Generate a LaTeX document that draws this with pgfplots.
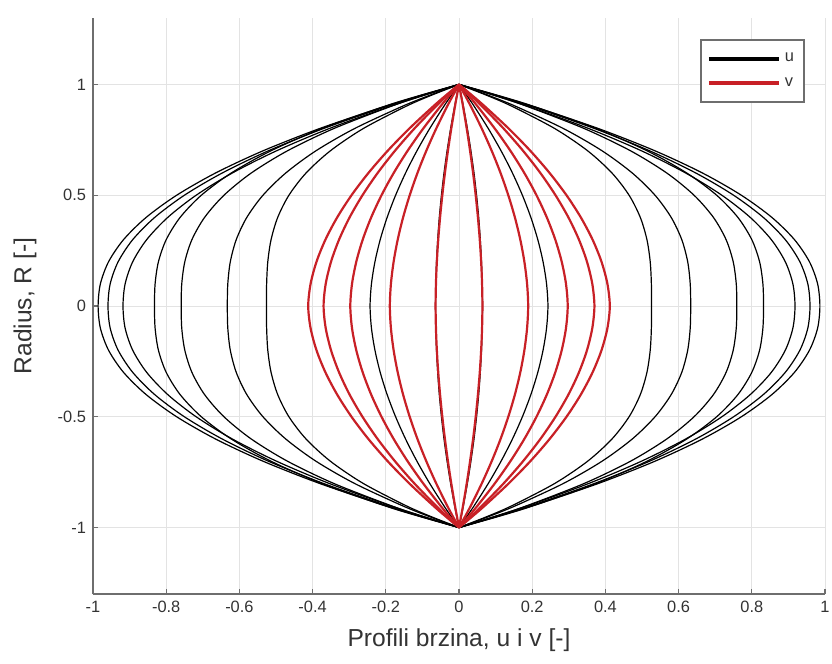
\documentclass[border=0pt]{standalone}
\usepackage{pgfplots}
\usepackage{pgfplotstable}
\pgfplotsset{compat=1.18}
\usepackage{fontspec}
\setmainfont{Liberation Sans}
\definecolor{mred}{RGB}{200,32,38}
\definecolor{axgray}{RGB}{110,110,110}

% positive side profiles: R, u-curves b1..b9, v-curves r1..r5
\pgfplotstableread{
R b1 b2 b3 b4 b5 b6 b7 b8 b9 r1 r2 r3 r4 r5
-1 0 0 0 0 0 0 0 0 0 0 0 0 0 0
-0.95 0.1052 0.1023 0.0980 0.1076 0.0981 0.0818 0.0773 0.0214 0.0062 0.0363 0.0326 0.0262 0.0167 0.0056
-0.9 0.2040 0.1984 0.1899 0.2060 0.1879 0.1567 0.1465 0.0420 0.0122 0.0712 0.0639 0.0513 0.0327 0.0111
-0.8 0.3825 0.3720 0.3561 0.3766 0.3435 0.2865 0.2626 0.0804 0.0230 0.1363 0.1224 0.0982 0.0625 0.0212
-0.7 0.5362 0.5215 0.4992 0.5144 0.4693 0.3914 0.3519 0.1151 0.0326 0.1952 0.1753 0.1407 0.0895 0.0303
-0.6 0.6656 0.6473 0.6197 0.6225 0.5679 0.4736 0.4181 0.1461 0.0410 0.2477 0.2225 0.1786 0.1136 0.0385
-0.5 0.7714 0.7503 0.7182 0.7040 0.6422 0.5356 0.4647 0.1732 0.0480 0.2937 0.2637 0.2117 0.1347 0.0456
-0.4 0.8547 0.8313 0.7957 0.7619 0.6951 0.5797 0.4953 0.1963 0.0538 0.3328 0.2989 0.2399 0.1527 0.0517
-0.3 0.9163 0.8912 0.8531 0.7998 0.7296 0.6085 0.5134 0.2152 0.0582 0.3648 0.3276 0.2630 0.1674 0.0567
-0.2 0.9574 0.9312 0.8914 0.8212 0.7491 0.6248 0.5224 0.2296 0.0614 0.3893 0.3496 0.2806 0.1786 0.0605
-0.1 0.9798 0.9530 0.9122 0.8303 0.7575 0.6317 0.5256 0.2392 0.0634 0.4055 0.3642 0.2923 0.1860 0.0630
0 0.9860 0.9590 0.9180 0.8320 0.7590 0.6330 0.5260 0.2430 0.0640 0.4120 0.3700 0.2970 0.1890 0.0640
0.1 0.9798 0.9530 0.9122 0.8303 0.7575 0.6317 0.5256 0.2392 0.0634 0.4055 0.3642 0.2923 0.1860 0.0630
0.2 0.9574 0.9312 0.8914 0.8212 0.7491 0.6248 0.5224 0.2296 0.0614 0.3893 0.3496 0.2806 0.1786 0.0605
0.3 0.9163 0.8912 0.8531 0.7998 0.7296 0.6085 0.5134 0.2152 0.0582 0.3648 0.3276 0.2630 0.1674 0.0567
0.4 0.8547 0.8313 0.7957 0.7619 0.6951 0.5797 0.4953 0.1963 0.0538 0.3328 0.2989 0.2399 0.1527 0.0517
0.5 0.7714 0.7503 0.7182 0.7040 0.6422 0.5356 0.4647 0.1732 0.0480 0.2937 0.2637 0.2117 0.1347 0.0456
0.6 0.6656 0.6473 0.6197 0.6225 0.5679 0.4736 0.4181 0.1461 0.0410 0.2477 0.2225 0.1786 0.1136 0.0385
0.7 0.5362 0.5215 0.4992 0.5144 0.4693 0.3914 0.3519 0.1151 0.0326 0.1952 0.1753 0.1407 0.0895 0.0303
0.8 0.3825 0.3720 0.3561 0.3766 0.3435 0.2865 0.2626 0.0804 0.0230 0.1363 0.1224 0.0982 0.0625 0.0212
0.9 0.2040 0.1984 0.1899 0.2060 0.1879 0.1567 0.1465 0.0420 0.0122 0.0712 0.0639 0.0513 0.0327 0.0111
0.95 0.1052 0.1023 0.0980 0.1076 0.0981 0.0818 0.0773 0.0214 0.0062 0.0363 0.0326 0.0262 0.0167 0.0056
1 0 0 0 0 0 0 0 0 0 0 0 0 0 0
}\pos

% negative side profiles
\pgfplotstableread{
R b1 b2 b3 b4 b5 b6 b7 b8 b9 r1 r2 r3 r4 r5
-1 0 0 0 0 0 0 0 0 0 0 0 0 0 0
-0.95 -0.1052 -0.1023 -0.0980 -0.1076 -0.0981 -0.0818 -0.0773 -0.0214 -0.0062 -0.0363 -0.0326 -0.0262 -0.0167 -0.0056
-0.9 -0.2040 -0.1984 -0.1899 -0.2060 -0.1879 -0.1567 -0.1465 -0.0420 -0.0122 -0.0712 -0.0639 -0.0513 -0.0327 -0.0111
-0.8 -0.3825 -0.3720 -0.3561 -0.3766 -0.3435 -0.2865 -0.2626 -0.0804 -0.0230 -0.1363 -0.1224 -0.0982 -0.0625 -0.0212
-0.7 -0.5362 -0.5215 -0.4992 -0.5144 -0.4693 -0.3914 -0.3519 -0.1151 -0.0326 -0.1952 -0.1753 -0.1407 -0.0895 -0.0303
-0.6 -0.6656 -0.6473 -0.6197 -0.6225 -0.5679 -0.4736 -0.4181 -0.1461 -0.0410 -0.2477 -0.2225 -0.1786 -0.1136 -0.0385
-0.5 -0.7714 -0.7503 -0.7182 -0.7040 -0.6422 -0.5356 -0.4647 -0.1732 -0.0480 -0.2937 -0.2637 -0.2117 -0.1347 -0.0456
-0.4 -0.8547 -0.8313 -0.7957 -0.7619 -0.6951 -0.5797 -0.4953 -0.1963 -0.0538 -0.3328 -0.2989 -0.2399 -0.1527 -0.0517
-0.3 -0.9163 -0.8912 -0.8531 -0.7998 -0.7296 -0.6085 -0.5134 -0.2152 -0.0582 -0.3648 -0.3276 -0.2630 -0.1674 -0.0567
-0.2 -0.9574 -0.9312 -0.8914 -0.8212 -0.7491 -0.6248 -0.5224 -0.2296 -0.0614 -0.3893 -0.3496 -0.2806 -0.1786 -0.0605
-0.1 -0.9798 -0.9530 -0.9122 -0.8303 -0.7575 -0.6317 -0.5256 -0.2392 -0.0634 -0.4055 -0.3642 -0.2923 -0.1860 -0.0630
0 -0.9860 -0.9590 -0.9180 -0.8320 -0.7590 -0.6330 -0.5260 -0.2430 -0.0640 -0.4120 -0.3700 -0.2970 -0.1890 -0.0640
0.1 -0.9798 -0.9530 -0.9122 -0.8303 -0.7575 -0.6317 -0.5256 -0.2392 -0.0634 -0.4055 -0.3642 -0.2923 -0.1860 -0.0630
0.2 -0.9574 -0.9312 -0.8914 -0.8212 -0.7491 -0.6248 -0.5224 -0.2296 -0.0614 -0.3893 -0.3496 -0.2806 -0.1786 -0.0605
0.3 -0.9163 -0.8912 -0.8531 -0.7998 -0.7296 -0.6085 -0.5134 -0.2152 -0.0582 -0.3648 -0.3276 -0.2630 -0.1674 -0.0567
0.4 -0.8547 -0.8313 -0.7957 -0.7619 -0.6951 -0.5797 -0.4953 -0.1963 -0.0538 -0.3328 -0.2989 -0.2399 -0.1527 -0.0517
0.5 -0.7714 -0.7503 -0.7182 -0.7040 -0.6422 -0.5356 -0.4647 -0.1732 -0.0480 -0.2937 -0.2637 -0.2117 -0.1347 -0.0456
0.6 -0.6656 -0.6473 -0.6197 -0.6225 -0.5679 -0.4736 -0.4181 -0.1461 -0.0410 -0.2477 -0.2225 -0.1786 -0.1136 -0.0385
0.7 -0.5362 -0.5215 -0.4992 -0.5144 -0.4693 -0.3914 -0.3519 -0.1151 -0.0326 -0.1952 -0.1753 -0.1407 -0.0895 -0.0303
0.8 -0.3825 -0.3720 -0.3561 -0.3766 -0.3435 -0.2865 -0.2626 -0.0804 -0.0230 -0.1363 -0.1224 -0.0982 -0.0625 -0.0212
0.9 -0.2040 -0.1984 -0.1899 -0.2060 -0.1879 -0.1567 -0.1465 -0.0420 -0.0122 -0.0712 -0.0639 -0.0513 -0.0327 -0.0111
0.95 -0.1052 -0.1023 -0.0980 -0.1076 -0.0981 -0.0818 -0.0773 -0.0214 -0.0062 -0.0363 -0.0326 -0.0262 -0.0167 -0.0056
1 0 0 0 0 0 0 0 0 0 0 0 0 0 0
}\negt

\begin{document}
\begin{tikzpicture}
\begin{axis}[
  scale only axis,
  width=366pt, height=288pt,
  xmin=-1, xmax=1, ymin=-1.3, ymax=1.3,
  xtick={-1,-0.8,-0.6,-0.4,-0.2,0,0.2,0.4,0.6,0.8,1},
  ytick={-1,-0.5,0,0.5,1},
  axis x line=bottom, axis y line=left,
  axis line style={-, axgray, line width=0.9pt},
  tick align=inside, tick pos=left,
  major tick length=2.5pt,
  tick style={axgray, line width=0.6pt},
  grid=major,
  major grid style={line width=0.4pt, gray!22},
  /pgf/number format/assume math mode=true,
  ticklabel style={font=\fontsize{8.2}{9.8}\selectfont, text=black!80},
  xlabel={Profili brzina, u i v [-]},
  ylabel={Radius, R [-]},
  label style={font=\fontsize{12.3}{14}\selectfont, text=black!80},
  xlabel style={at={(axis description cs:0.5,-0.08)}, anchor=center},
  ylabel style={at={(axis description cs:-0.093,0.5)}, anchor=center},
  legend style={at={(1,1)}, anchor=north east, xshift=-10pt, yshift=-10.5pt,
    draw=axgray, line width=0.9pt, fill=white, inner xsep=3pt, inner ysep=4.5pt,
    row sep=2.5pt, font=\fontsize{8.2}{9.8}\selectfont, text=black!80},
  legend image code/.code={\draw[#1, line width=2pt] (0pt,0pt) -- (35pt,0pt);},
  legend cell align=left,
  clip=true,
]
\addlegendimage{black}
\addlegendentry{u}
\addlegendimage{mred}
\addlegendentry{v}
\foreach \c in {b1,b2,b3,b4,b5,b6,b7,b8,b9}{
  \addplot[black, line width=0.6pt, smooth, forget plot] table[x=\c, y=R] {\pos};
  \addplot[black, line width=0.6pt, smooth, forget plot] table[x=\c, y=R] {\negt};
}
\foreach \c in {r1,r2,r3,r4,r5}{
  \addplot[mred, line width=1.1pt, smooth, forget plot] table[x=\c, y=R] {\pos};
  \addplot[mred, line width=1.1pt, smooth, forget plot] table[x=\c, y=R] {\negt};
}
\end{axis}
\pgfresetboundingbox
\path ([xshift=-46.5pt,yshift=-34.5pt]current axis.south west) rectangle ([xshift=3.5pt,yshift=9pt]current axis.north east);
\end{tikzpicture}
\end{document}
